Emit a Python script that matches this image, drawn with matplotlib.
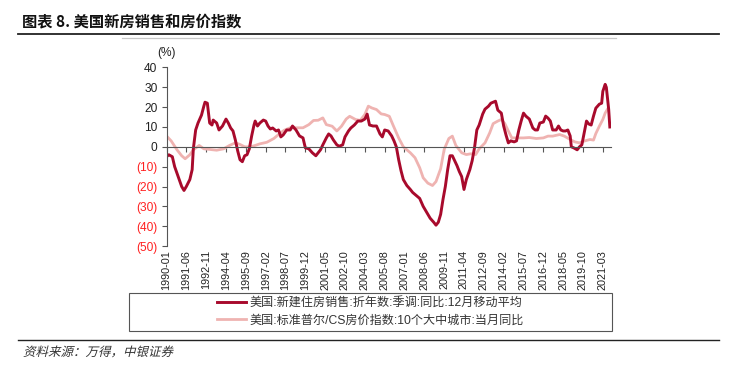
import matplotlib
matplotlib.use("Agg")
import matplotlib.pyplot as plt
import pandas as pd
from matplotlib.lines import Line2D
from matplotlib.patches import Rectangle, PathPatch
from matplotlib.textpath import TextPath
from matplotlib.font_manager import FontProperties
from matplotlib.transforms import Affine2D

plt.rcParams['font.family'] = ['Liberation Sans', 'Noto Sans CJK SC', 'DejaVu Sans']

# 月份序号: 自 1990-01 起的月数
start_month = '1990-01'
n_months = 381
tick_step = 17

# 美国:新建住房销售:折年数:季调:同比:12月移动平均 (%)
sales_month = [0, 2, 5, 7, 10, 13, 15, 17, 20, 22, 23, 25, 27, 30, 32, 33, 35, 37, 39, 40,
               43, 45, 48, 51, 53, 55, 57, 59, 61, 63, 65, 67, 69, 71, 73, 75, 76, 78, 80, 83,
               85, 87, 89, 91, 94, 96, 98, 100, 103, 106, 108, 111, 114, 117, 119, 122, 125, 128, 130, 132,
               134, 137, 139, 141, 143, 146, 148, 151, 153, 156, 158, 161, 164, 167, 170, 172, 174, 177, 180, 183,
               185, 187, 190, 193, 195, 197, 199, 201, 203, 206, 209, 211, 214, 217, 220, 223, 226, 229, 231, 233,
               235, 237, 239, 241, 243, 245, 247, 249, 251, 253, 255, 257, 260, 262, 264, 266, 268, 271, 273, 276,
               278, 280, 282, 284, 287, 289, 291, 293, 295, 298, 300, 302, 304, 306, 308, 311, 314, 316, 318, 320,
               323, 325, 327, 329, 331, 334, 336, 338, 340, 342, 344, 346, 347, 349, 352, 354, 356, 358, 360, 362,
               364, 366, 368, 371, 373, 374, 376, 377, 379, 380]
sales_yoy = [-5, -4, -5, -10, -15, -20, -22, -20, -16.5, -11.5, -1, 8.5, 12, 16, 20.5, 22.5, 22, 12, 11, 13.5,
             12, 8.5, 10.5, 14, 12, 9.5, 8, 3.5, -2, -6.5, -7.5, -4.5, -4, -1, 5.5, 11, 13, 10.5, 12, 13.5,
             13, 10.5, 9, 9.5, 8, 8.5, 5, 6, 8.5, 8.5, 10.5, 8.5, 5.5, 4.5, -0.5, -1, -3, -4.5, -3, -1.5,
             1, 4.5, 6.5, 5.5, 3.5, 1, 0.3, 1, 5, 8, 9.5, 11, 13, 13, 14, 16.5, 11, 10.5, 10.5, 6.5,
             5, 8.5, 8, 5.5, 3, 0, -6.5, -12, -16.5, -19.5, -21.5, -23, -24.5, -26, -30, -33, -36, -38, -39.5, -38,
             -34, -26.5, -20, -11.5, -4.5, -4.5, -7, -9.5, -12.5, -15, -21.5, -16.5, -11.5, -7, -0.5, 8.5, 11, 16.5, 19, 20.5,
             22, 22.5, 23, 18.5, 17, 10.5, 6, 2, 3, 2.5, 3, 8.5, 13, 17, 15.5, 14, 9.5, 8.5, 8.5, 12,
             12.5, 15.5, 14.5, 13, 8.5, 8.5, 10.5, 8.5, 8, 8, 8.5, 5.5, 0, -0.5, -1.5, 0, 1, 7, 13, 11.5,
             11, 15.5, 19.5, 21.5, 22, 28, 31.5, 30, 19, 10]

# 美国:标准普尔/CS房价指数:10个大中城市:当月同比 (%)
cs_month = [0, 4, 9, 13, 16, 20, 23, 28, 32, 37, 43, 49, 54, 59, 63, 67, 72, 76, 80, 86,
            92, 97, 101, 106, 112, 117, 122, 126, 130, 134, 137, 142, 146, 150, 154, 157, 162, 166, 170, 173,
            176, 180, 184, 187, 191, 194, 199, 203, 209, 213, 217, 220, 224, 228, 231, 235, 238, 242, 245, 248,
            253, 257, 261, 265, 268, 273, 277, 280, 284, 287, 290, 293, 296, 300, 306, 311, 317, 323, 327, 331,
            337, 341, 346, 350, 354, 358, 363, 366, 368, 371, 374, 376, 378]
cs_yoy = [5.5, 3, -1.5, -4.5, -6, -4, -1.5, 0.7, -1, -1.3, -1.7, -1, 0.7, 2, 1.2, 0, 0, 0.7, 1.5, 2.3,
          4.2, 6.7, 8.4, 9.6, 9.6, 9.6, 11.2, 13.3, 13.4, 14.6, 11.2, 10.4, 8, 10.4, 14, 15.4, 13.8, 13.3, 16.3, 20.5,
          19.6, 18.8, 16.6, 16.3, 15.4, 11.2, 4.5, 0, -3, -5.5, -10.5, -15.6, -18.3, -19.5, -17.5, -11, -1.3, 4.2, 5.4, 0.7,
          -3, -3.9, -3.5, -3.9, -1, 2, 7, 11.7, 13, 13.8, 11.7, 8, 4.5, 4.5, 4.5, 4.7, 4.2, 4.5, 5.4, 5.4,
          6.2, 5.4, 3.7, 2.5, 2, 2.9, 3.7, 3.4, 6.7, 10.4, 13.8, 17, 19]

y_ticks = [40, 30, 20, 10, 0, -10, -20, -30, -40, -50]

dark_red = '#A80A2C'
pink = '#EFB3B1'

W, H = 735, 367
fig = plt.figure(figsize=(W / 100, H / 100), dpi=100)
ax = fig.add_axes([166.5 / W, 1 - 246 / H, (611 - 166.5) / W, (246 - 67.5) / H])

ax.plot(cs_month, cs_yoy, color=pink, lw=2.0, solid_joinstyle='round',
        label='美国:标准普尔/CS房价指数:10个大中城市:当月同比')
ax.plot(sales_month, sales_yoy, color=dark_red, lw=2.1, solid_joinstyle='round',
        label='美国:新建住房销售:折年数:季调:同比:12月移动平均')

ax.set_xlim(0, n_months)
ax.set_ylim(-50, 40)

for s in ['top', 'right']:
    ax.spines[s].set_visible(False)
ax.spines['bottom'].set_position(('data', 0))
ax.spines['bottom'].set_color('#555555')
ax.spines['left'].set_color('#555555')
ax.spines['bottom'].set_linewidth(0.8)
ax.spines['left'].set_linewidth(0.8)

months = pd.period_range(start_month, periods=n_months, freq='M')
ticks = list(range(0, n_months, tick_step))
ax.set_xticks(ticks)
ax.tick_params(axis='x', direction='out', length=3.5, color='#555555', labelbottom=False)

sec = ax.secondary_xaxis('bottom')
sec.set_xticks(ticks, [months[t].strftime('%Y-%m') for t in ticks])
sec.tick_params(length=0, labelrotation=90, labelsize=7.8, pad=3, colors='#222222')
sec.spines['bottom'].set_visible(False)

ax.set_yticks(y_ticks)
ax.set_yticklabels([f'({-v})' if v < 0 else str(v) for v in y_ticks])
ax.tick_params(axis='y', direction='out', length=3.5, color='#555555', labelsize=8.6, pad=3)
for lab, v in zip(ax.get_yticklabels(), y_ticks):
    lab.set_color('#FF2020' if v < 0 else '#222222')

fig.text(166 / W, 1 - 53 / H, '(%)', ha='center', va='center', fontsize=8.6, color='#222222')

# 标题与分隔线
fig.text(22 / W, 1 - 21 / H, '图表 8. 美国新房销售和房价指数', fontsize=11, fontweight='bold',
         va='center', ha='left', family=['Noto Sans CJK SC', 'DejaVu Sans'], color='#111111')
fig.add_artist(Line2D([18 / W, 719 / W], [1 - 33.5 / H] * 2, color='#222222', lw=1.3))
fig.add_artist(Line2D([122 / W, 616 / W], [1 - 38 / H] * 2, color='#C8C8C8', lw=0.9))

# 图例
handles, labels = ax.get_legend_handles_labels()
leg = ax.legend(handles[::-1], labels[::-1], loc='center', bbox_to_anchor=(370 / W, 1 - 312 / H),
                bbox_transform=fig.transFigure, frameon=False, fontsize=8.7, handlelength=2.4,
                handletextpad=0.3, labelspacing=0.4, borderpad=0)
for t in leg.get_texts():
    t.set_color('#333333')
fig.add_artist(Rectangle((129 / W, 1 - 331 / H), (612 - 129) / W, (331 - 293) / H,
                         fill=False, edgecolor='#555555', lw=0.8, transform=fig.transFigure))

# 资料来源
fig.add_artist(Line2D([18 / W, 719 / W], [1 - 340 / H] * 2, color='#222222', lw=1.0))
tp = TextPath((0, 0), '资料来源：万得，中银证券', size=12.5, prop=FontProperties(family='Noto Sans CJK SC'))
fig.add_artist(PathPatch(tp, transform=Affine2D().skew_deg(14, 0).translate(23, H - 356),
                         facecolor='#333333', lw=0))

fig.savefig('out.png', dpi=100)
